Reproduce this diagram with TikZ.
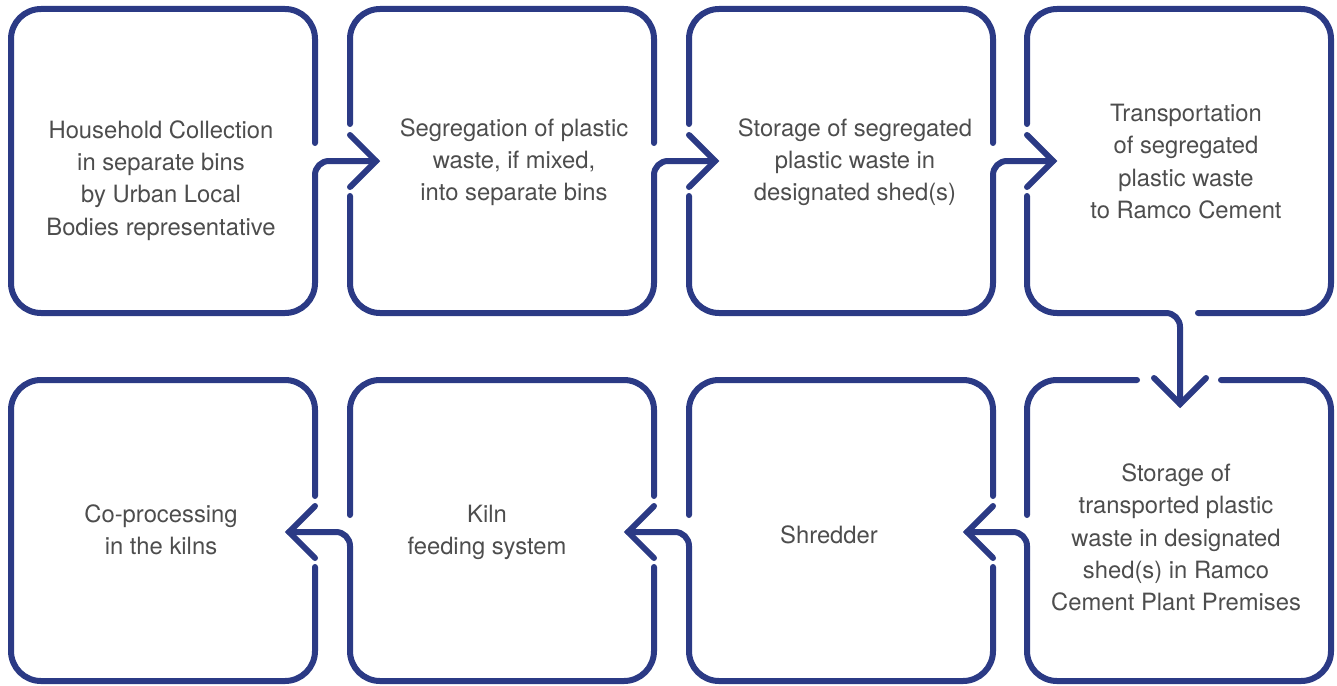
\documentclass[tikz,border=0pt]{standalone}
\usepackage{fontspec}
\setmainfont{TeX Gyre Heros}
\definecolor{navy}{HTML}{2B3A85}
\definecolor{txt}{HTML}{4D4D4D}
\begin{document}
\begin{tikzpicture}[x=1pt,y=-1pt,
  edge/.style={draw=navy, line width=6pt, line cap=round, line join=round, rounded corners=30pt},
  conn/.style={draw=navy, line width=6pt, line cap=round, line join=round, rounded corners=14pt},
  head/.style={draw=navy, line width=6pt, line cap=round, line join=miter},
  lbl/.style={text=txt, align=center, font=\fontsize{23.8}{32.2}\selectfont, inner sep=0pt}]
\useasboundingbox (0,0) rectangle (1337,685);
% Box 1
\path[edge] (315,143) -- (315,9) -- (11,9) -- (11,313) -- (315,313) -- (315,200);
\path[conn] (315,200) -- (315,161) -- (376,161);
\path[head] (350,135) -- (376,161) -- (350,187);
% Box 2
\path[edge] (350,124) -- (350,9) -- (654,9) -- (654,143);
\path[edge] (350,196) -- (350,313) -- (654,313) -- (654,200);
\path[conn] (654,200) -- (654,161) -- (715,161);
\path[head] (689,135) -- (715,161) -- (689,187);
% Box 3
\path[edge] (689,124) -- (689,9) -- (993,9) -- (993,143);
\path[edge] (689,196) -- (689,313) -- (993,313) -- (993,200);
\path[conn] (993,200) -- (993,161) -- (1053,161);
\path[head] (1027,135) -- (1053,161) -- (1027,187);
% Box 4
\path[edge] (1027,124) -- (1027,9) -- (1331,9) -- (1331,313) -- (1198,313);
\path[edge] (1027,196) -- (1027,313) -- (1140,313);
\path[conn] (1140,313) -- (1180,313) -- (1180,404);
\path[head] (1154,378) -- (1180,404) -- (1206,378);
% Box 8
\path[edge] (1137,380) -- (1027,380) -- (1027,515);
\path[edge] (1221,380) -- (1331,380) -- (1331,681) -- (1027,681) -- (1027,570);
\path[conn] (1027,570) -- (1027,532) -- (967,532);
\path[head] (993,506) -- (967,532) -- (993,558);
% Box 7
\path[edge] (993,496) -- (993,380) -- (689,380) -- (689,515);
\path[edge] (993,567) -- (993,681) -- (689,681) -- (689,570);
\path[conn] (689,570) -- (689,532) -- (628,532);
\path[head] (654,506) -- (628,532) -- (654,558);
% Box 6
\path[edge] (654,496) -- (654,380) -- (350,380) -- (350,515);
\path[edge] (654,567) -- (654,681) -- (350,681) -- (350,570);
\path[conn] (350,570) -- (350,532) -- (289,532);
\path[head] (315,506) -- (289,532) -- (315,558);
% Box 5
\path[edge] (315,496) -- (315,380) -- (11,380) -- (11,681) -- (315,681) -- (315,567);
% Labels
\node[lbl] (t1) at (161,180.5) {Household Collection\\in separate bins\\by Urban Local\\Bodies representative};
\node[lbl] (t2) at (514,162.5) {Segregation of plastic\\waste, if mixed,\\into separate bins};
\node[lbl] (t3) at (855,162.5) {Storage of segregated\\plastic waste in\\designated shed(s)};
\node[lbl] (t4) at (1186,161.5) {Transportation\\of segregated\\plastic waste\\to Ramco Cement};
\node[lbl] (t5) at (161,529.5) {Co-processing\\in the kilns};
\node[lbl] (t6) at (487,532.5) {Kiln\\feeding system};
\node[lbl] (t7) at (829,535) {Shredder};
\node[lbl] (t8) at (1176,537.5) {Storage of\\transported plastic\\waste in designated\\shed(s) in Ramco\\Cement Plant Premises};
\end{tikzpicture}
\end{document}
